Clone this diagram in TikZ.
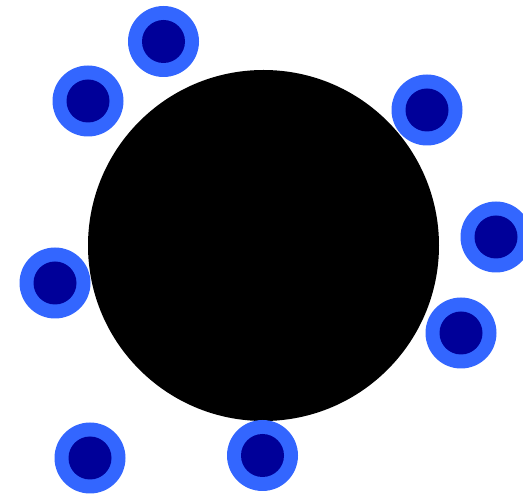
\documentclass[tikz,border=0pt]{standalone}
\definecolor{ringblue}{HTML}{3366FF}
\definecolor{coreblue}{HTML}{000099}
\begin{document}
\begin{tikzpicture}[x=1pt, y=-1pt, every node/.style={circle, inner sep=0pt, outer sep=0pt},
  ring/.style={fill=ringblue, minimum size=71pt},
  core/.style={fill=coreblue, minimum size=43pt}]
  \useasboundingbox (0,0) rectangle (523,494);
  \node[fill=black, minimum size=351pt] (body) at (263.5,245.5) {};
  \foreach \x/\y [count=\k] in {163.5/41.5, 88/101, 427/110, 496/237, 55/283, 461/333, 90/458, 262.5/455.5} {
    \node[ring] (r\k) at (\x,\y) {};
    \node[core] (c\k) at (\x,\y) {};
  }
\end{tikzpicture}
\end{document}
